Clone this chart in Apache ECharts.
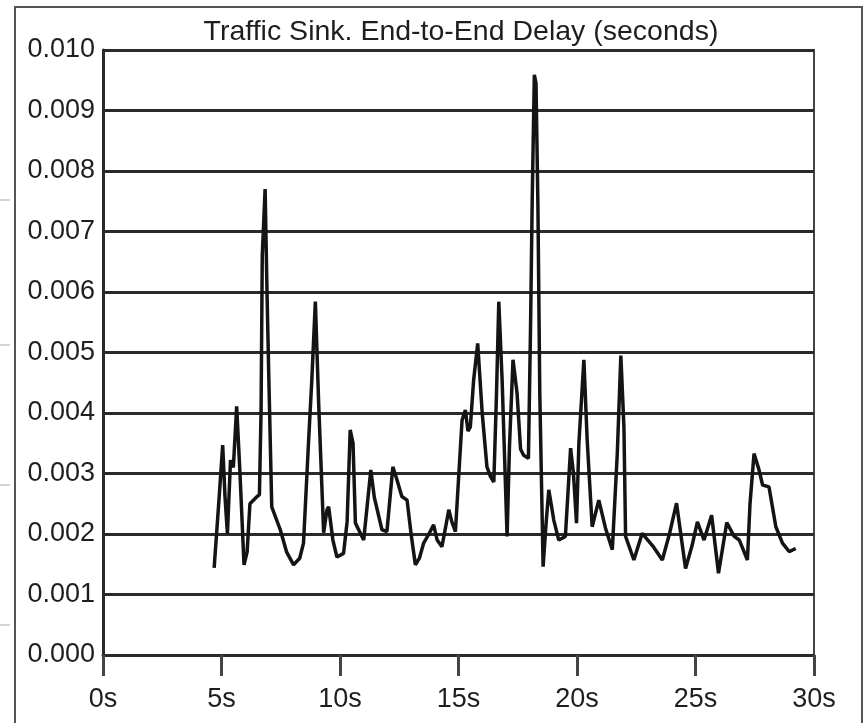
<!DOCTYPE html>
<html>
<head>
<meta charset="utf-8">
<script src="https://cdn.jsdelivr.net/npm/echarts@6/dist/echarts.min.js"></script>
<style>
html,body{margin:0;padding:0;background:#fff;}
#chart{width:866px;height:723px;}
</style>
</head>
<body>
<div id="chart"></div>
<script>
const titleText = "Traffic Sink. End-to-End Delay (seconds)";
const xTicks = [0, 5, 10, 15, 20, 25, 30];
const yTicks = [0.000, 0.001, 0.002, 0.003, 0.004, 0.005, 0.006, 0.007, 0.008, 0.009, 0.010];
const times = [
  4.69, 4.90, 5.05, 5.15, 5.25, 5.38, 5.50, 5.64, 5.78, 5.95,
  6.08, 6.20, 6.45, 6.60, 6.67, 6.72, 6.84, 6.92, 6.99, 7.12,
  7.48, 7.75, 8.04, 8.30, 8.46, 8.67, 8.81, 8.96, 9.10, 9.31,
  9.45, 9.52, 9.70, 9.87, 10.15, 10.30, 10.43, 10.55, 10.65, 11.00,
  11.30, 11.45, 11.77, 11.98, 12.23, 12.40, 12.61, 12.83, 13.00, 13.18,
  13.35, 13.53, 13.75, 13.95, 14.10, 14.30, 14.45, 14.59, 14.72, 14.87,
  15.00, 15.15, 15.29, 15.40, 15.50, 15.64, 15.81, 16.00, 16.20, 16.35,
  16.49, 16.60, 16.70, 16.84, 16.95, 17.05, 17.15, 17.30, 17.47, 17.62,
  17.75, 17.95, 18.04, 18.11, 18.20, 18.27, 18.35, 18.43, 18.57, 18.70,
  18.81, 19.02, 19.23, 19.51, 19.73, 19.85, 19.98, 20.08, 20.29, 20.43,
  20.64, 20.92, 21.20, 21.49, 21.70, 21.85, 21.98, 22.05, 22.40, 22.75,
  23.20, 23.60, 23.90, 24.20, 24.58, 24.85, 25.08, 25.36, 25.68, 25.97,
  26.32, 26.63, 26.85, 27.19, 27.30, 27.47, 27.68, 27.83, 28.10, 28.39,
  28.67, 28.95, 29.23
];
const delays = [
  0.00144, 0.00260, 0.00347, 0.00260, 0.00200, 0.00322, 0.00310, 0.00411, 0.00300, 0.00149,
  0.00170, 0.00250, 0.00260, 0.00265, 0.00405, 0.00660, 0.00770, 0.00600, 0.00470, 0.00245,
  0.00207, 0.00170, 0.00149, 0.00160, 0.00185, 0.00350, 0.00454, 0.00584, 0.00416, 0.00202,
  0.00240, 0.00245, 0.00190, 0.00162, 0.00168, 0.00220, 0.00372, 0.00350, 0.00218, 0.00190,
  0.00306, 0.00260, 0.00207, 0.00204, 0.00311, 0.00290, 0.00262, 0.00256, 0.00200, 0.00149,
  0.00160, 0.00185, 0.00200, 0.00215, 0.00190, 0.00179, 0.00210, 0.00240, 0.00220, 0.00204,
  0.00290, 0.00388, 0.00405, 0.00370, 0.00377, 0.00455, 0.00515, 0.00400, 0.00311, 0.00295,
  0.00286, 0.00427, 0.00584, 0.00455, 0.00320, 0.00196, 0.00344, 0.00488, 0.00433, 0.00340,
  0.00330, 0.00325, 0.00543, 0.00752, 0.00959, 0.00945, 0.00746, 0.00433, 0.00146, 0.00220,
  0.00273, 0.00223, 0.00190, 0.00196, 0.00342, 0.00300, 0.00218, 0.00350, 0.00488, 0.00355,
  0.00212, 0.00256, 0.00210, 0.00174, 0.00333, 0.00495, 0.00377, 0.00196, 0.00157, 0.00201,
  0.00180, 0.00157, 0.00200, 0.00251, 0.00143, 0.00180, 0.00220, 0.00190, 0.00231, 0.00135,
  0.00219, 0.00196, 0.00190, 0.00157, 0.00250, 0.00333, 0.00306, 0.00281, 0.00278, 0.00212,
  0.00185, 0.00171, 0.00176
];

const seriesData = times.map((t, i) => [t, delays[i]]);
const FONT = "'Liberation Sans', Arial, Helvetica, sans-serif";

const chart = echarts.init(document.getElementById('chart'), null, {renderer: 'canvas'});
chart.setOption({
  animation: false,
  backgroundColor: '#ffffff',
  title: {
    text: titleText,
    left: 456,
    textAlign: 'center',
    top: 13,
    textStyle: {fontFamily: FONT, fontSize: 28.5, fontWeight: 'normal', color: '#1e1e1e'}
  },
  grid: {
    left: 103, top: 50, right: 52, bottom: 68,
    show: true, borderColor: '#444', borderWidth: 2, backgroundColor: 'transparent'
  },
  xAxis: {
    type: 'value',
    min: xTicks[0], max: xTicks[xTicks.length - 1], interval: 5,
    axisLine: {show: true, onZero: false, lineStyle: {color: '#2a2a2a', width: 3}},
    axisTick: {show: true, inside: false, length: 21, lineStyle: {color: '#444', width: 3}},
    axisLabel: {
      margin: 31,
      fontFamily: FONT, fontSize: 27, color: '#1e1e1e',
      formatter: v => xTicks.includes(v) ? v + 's' : ''
    },
    splitLine: {show: false}
  },
  yAxis: {
    type: 'value',
    min: yTicks[0], max: yTicks[yTicks.length - 1], interval: 0.001,
    axisLine: {show: true, lineStyle: {color: '#2a2a2a', width: 3}},
    axisTick: {show: false},
    axisLabel: {
      margin: 8,
      fontFamily: FONT, fontSize: 27, color: '#1e1e1e',
      formatter: v => v.toFixed(3)
    },
    splitLine: {show: true, lineStyle: {color: '#2a2a2a', width: 3}}
  },
  series: [{
    type: 'line',
    data: seriesData,
    symbol: 'none',
    lineStyle: {color: '#141414', width: 3.5},
    z: 5
  }],
  graphic: [
    {type: 'rect', shape: {x: 15, y: 7, width: 847, height: 730}, style: {fill: 'none', stroke: '#555', lineWidth: 2}, silent: true},
    {type: 'line', shape: {x1: 0, y1: 200, x2: 10, y2: 200}, style: {stroke: '#aaa', lineWidth: 1}, silent: true},
    {type: 'line', shape: {x1: 0, y1: 345, x2: 10, y2: 345}, style: {stroke: '#aaa', lineWidth: 1}, silent: true},
    {type: 'line', shape: {x1: 0, y1: 485, x2: 10, y2: 485}, style: {stroke: '#aaa', lineWidth: 1}, silent: true},
    {type: 'line', shape: {x1: 0, y1: 625, x2: 10, y2: 625}, style: {stroke: '#aaa', lineWidth: 1}, silent: true}
  ]
});
</script>
</body>
</html>
